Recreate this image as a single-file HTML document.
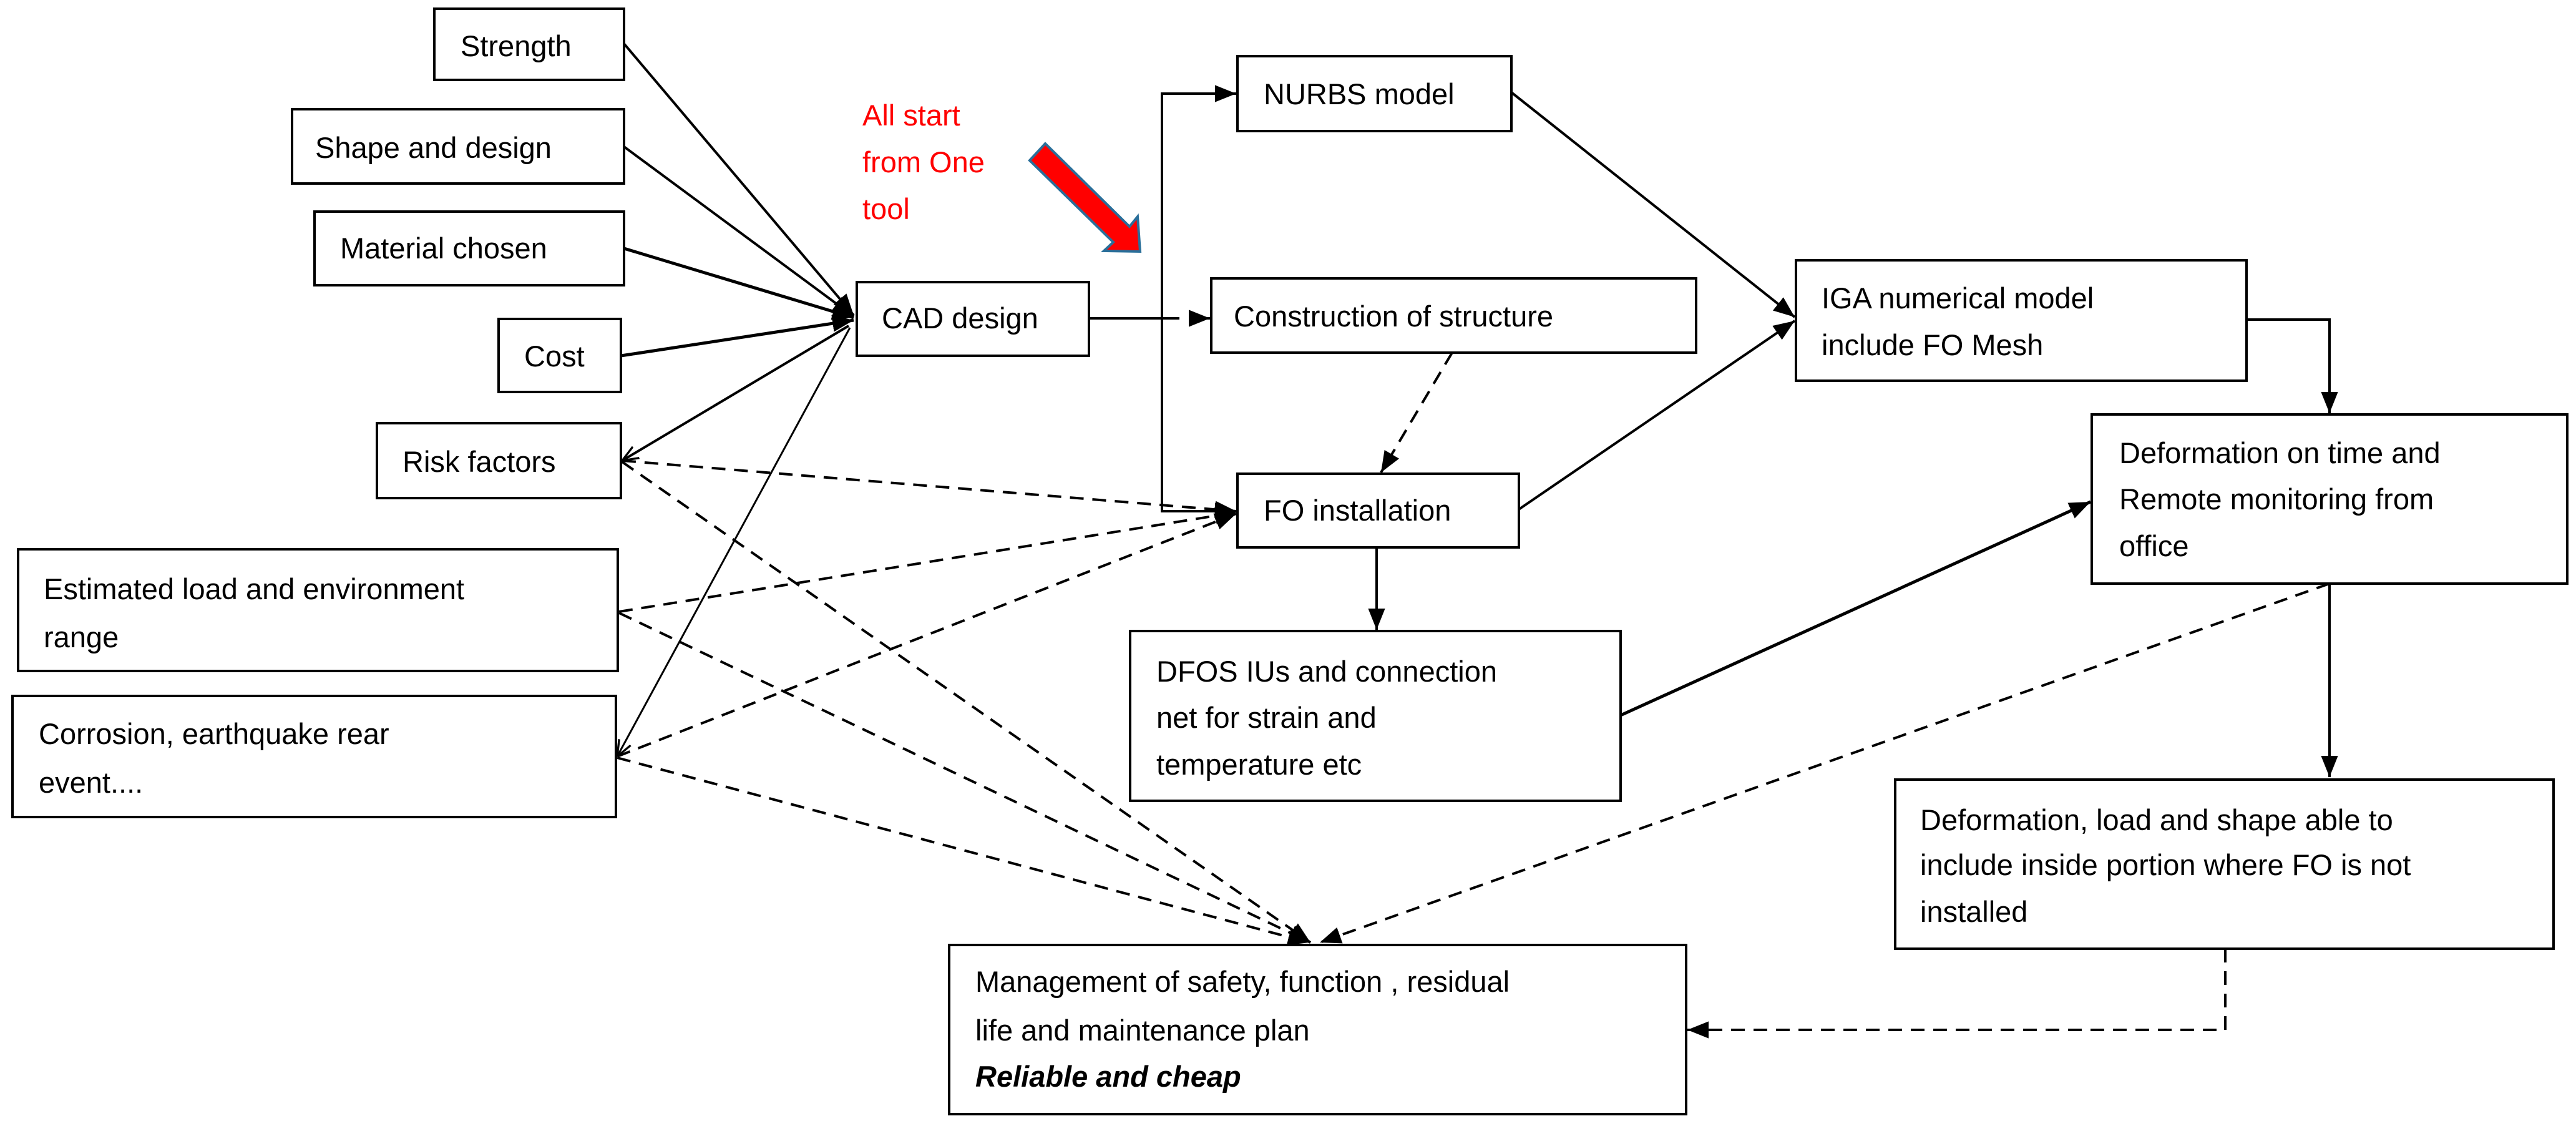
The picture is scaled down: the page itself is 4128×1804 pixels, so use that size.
<!DOCTYPE html>
<html><head><meta charset="utf-8"><style>
html,body{margin:0;padding:0;background:#fff;}
svg{display:block;}
text{font-family:"Liberation Sans",sans-serif;font-size:47px;fill:#000;}
</style></head><body>
<svg width="4128" height="1804" viewBox="0 0 4128 1804" xmlns="http://www.w3.org/2000/svg">
<defs>
<marker id="a" markerWidth="10" markerHeight="10" refX="9" refY="5" orient="auto" markerUnits="userSpaceOnUse" viewBox="0 0 10 10">
</marker>
<marker id="ah" viewBox="0 0 10 10" refX="10" refY="5" markerWidth="34" markerHeight="34" markerUnits="userSpaceOnUse" orient="auto"><path d="M0,1 L10,5 L0,9 z" fill="#000"/></marker>
<marker id="oh" viewBox="0 0 10 10" refX="10" refY="5" markerWidth="26" markerHeight="26" markerUnits="userSpaceOnUse" orient="auto"><path d="M0,1 L10,5 L0,9" fill="none" stroke="#000" stroke-width="1.3"/></marker>
</defs>
<g fill="#fff" stroke="#000" stroke-width="4">
<rect x="696" y="14" width="304" height="114"/>
<rect x="468" y="175" width="532" height="119"/>
<rect x="504" y="339" width="496" height="118"/>
<rect x="799" y="511" width="196" height="117"/>
<rect x="604" y="678" width="391" height="120"/>
<rect x="29" y="880" width="961" height="195"/>
<rect x="20" y="1115" width="967" height="194"/>
<rect x="1373" y="452" width="372" height="118"/>
<rect x="1983" y="90" width="439" height="120"/>
<rect x="1941" y="446" width="777" height="119"/>
<rect x="1983" y="759" width="451" height="118"/>
<rect x="2878" y="417" width="722" height="193"/>
<rect x="3352" y="664" width="762" height="271"/>
<rect x="1811" y="1011" width="786" height="272"/>
<rect x="3037" y="1249" width="1055" height="271"/>
<rect x="1521" y="1514" width="1181" height="271"/>
</g>
<g stroke="#000" stroke-width="4" fill="none">
<line x1="1000" y1="70" x2="1368" y2="505" marker-end="url(#ah)"/>
<line x1="1000" y1="235" x2="1368" y2="507" marker-end="url(#ah)"/>
<line x1="1000" y1="398" x2="1368" y2="509" stroke-width="5" marker-end="url(#ah)"/>
<line x1="995" y1="570" x2="1368" y2="513" stroke-width="5" marker-end="url(#ah)"/>
<line x1="1360" y1="522" x2="997" y2="738" marker-end="url(#oh)"/>
<line x1="1362" y1="525" x2="989" y2="1212" stroke-width="3" marker-end="url(#oh)"/>
<line x1="1745" y1="510" x2="1890" y2="510"/>
<line x1="1905" y1="510" x2="1939" y2="510" marker-end="url(#ah)"/>
<polyline points="1981,150 1862,150 1862,819 1981,819" stroke-width="4"/>
<line x1="1950" y1="150" x2="1981" y2="150" marker-end="url(#ah)"/>
<line x1="1950" y1="819" x2="1981" y2="819" marker-end="url(#ah)"/>
<line x1="2422" y1="148" x2="2876" y2="508" marker-end="url(#ah)"/>
<line x1="2434" y1="816" x2="2876" y2="514" marker-end="url(#ah)"/>
<polyline points="3600,512 3733,512 3733,662" marker-end="url(#ah)"/>
<line x1="2206" y1="877" x2="2206" y2="1009" marker-end="url(#ah)"/>
<line x1="2597" y1="1146" x2="3350" y2="804" stroke-width="5" marker-end="url(#ah)"/>
<line x1="3733" y1="935" x2="3733" y2="1245" marker-end="url(#ah)"/>
</g>
<g stroke="#000" stroke-width="4" fill="none" stroke-dasharray="22,14">
<line x1="2327" y1="565" x2="2213" y2="757" marker-end="url(#ah)"/>
<line x1="997" y1="738" x2="1981" y2="819" marker-end="url(#ah)"/>
<line x1="992" y1="980" x2="1981" y2="821" marker-end="url(#ah)"/>
<line x1="989" y1="1212" x2="1981" y2="823" marker-end="url(#ah)"/>
<line x1="997" y1="740" x2="2100" y2="1510" marker-end="url(#ah)"/>
<line x1="992" y1="982" x2="2100" y2="1510" marker-end="url(#ah)"/>
<line x1="989" y1="1214" x2="2098" y2="1510" marker-end="url(#ah)"/>
<line x1="3733" y1="935" x2="2115" y2="1510" marker-end="url(#ah)"/>
<polyline points="3566,1520 3566,1650 2704,1650" marker-end="url(#ah)"/>
</g>
<polygon points="1675,230 1810,363 1823,347 1827,403 1769,402 1784,388 1650,257" fill="#f00" stroke="#2a6f9a" stroke-width="4"/>
<text x="1382" y="201" style="fill:#f00">All start</text>
<text x="1382" y="276" style="fill:#f00">from One</text>
<text x="1382" y="351" style="fill:#f00">tool</text>
<text x="738" y="90">Strength</text>
<text x="505" y="253">Shape and design</text>
<text x="545" y="414">Material chosen</text>
<text x="840" y="587">Cost</text>
<text x="645" y="756">Risk factors</text>
<text x="70" y="960">Estimated load and environment</text>
<text x="70" y="1037">range</text>
<text x="62" y="1192">Corrosion, earthquake  rear</text>
<text x="62" y="1270">event....</text>
<text x="1413" y="526">CAD design</text>
<text x="2025" y="167">NURBS model</text>
<text x="1977" y="523">Construction of structure</text>
<text x="2025" y="834">FO installation</text>
<text x="2919" y="494">IGA  numerical model</text>
<text x="2919" y="569">include FO Mesh</text>
<text x="3396" y="742">Deformation on time and</text>
<text x="3396" y="816">Remote monitoring from</text>
<text x="3396" y="891">office</text>
<text x="1853" y="1092">DFOS IUs and connection</text>
<text x="1853" y="1166">net for strain and</text>
<text x="1853" y="1241">temperature etc</text>
<text x="3077" y="1330">Deformation, load and shape  able to</text>
<text x="3077" y="1402">include inside portion where FO is not</text>
<text x="3077" y="1477">installed</text>
<text x="1563" y="1589">Management of safety, function , residual</text>
<text x="1563" y="1667">life and maintenance plan</text>
<text x="1563" y="1741" style="font-weight:bold;font-style:italic">Reliable and cheap</text>
</svg>
</body></html>
